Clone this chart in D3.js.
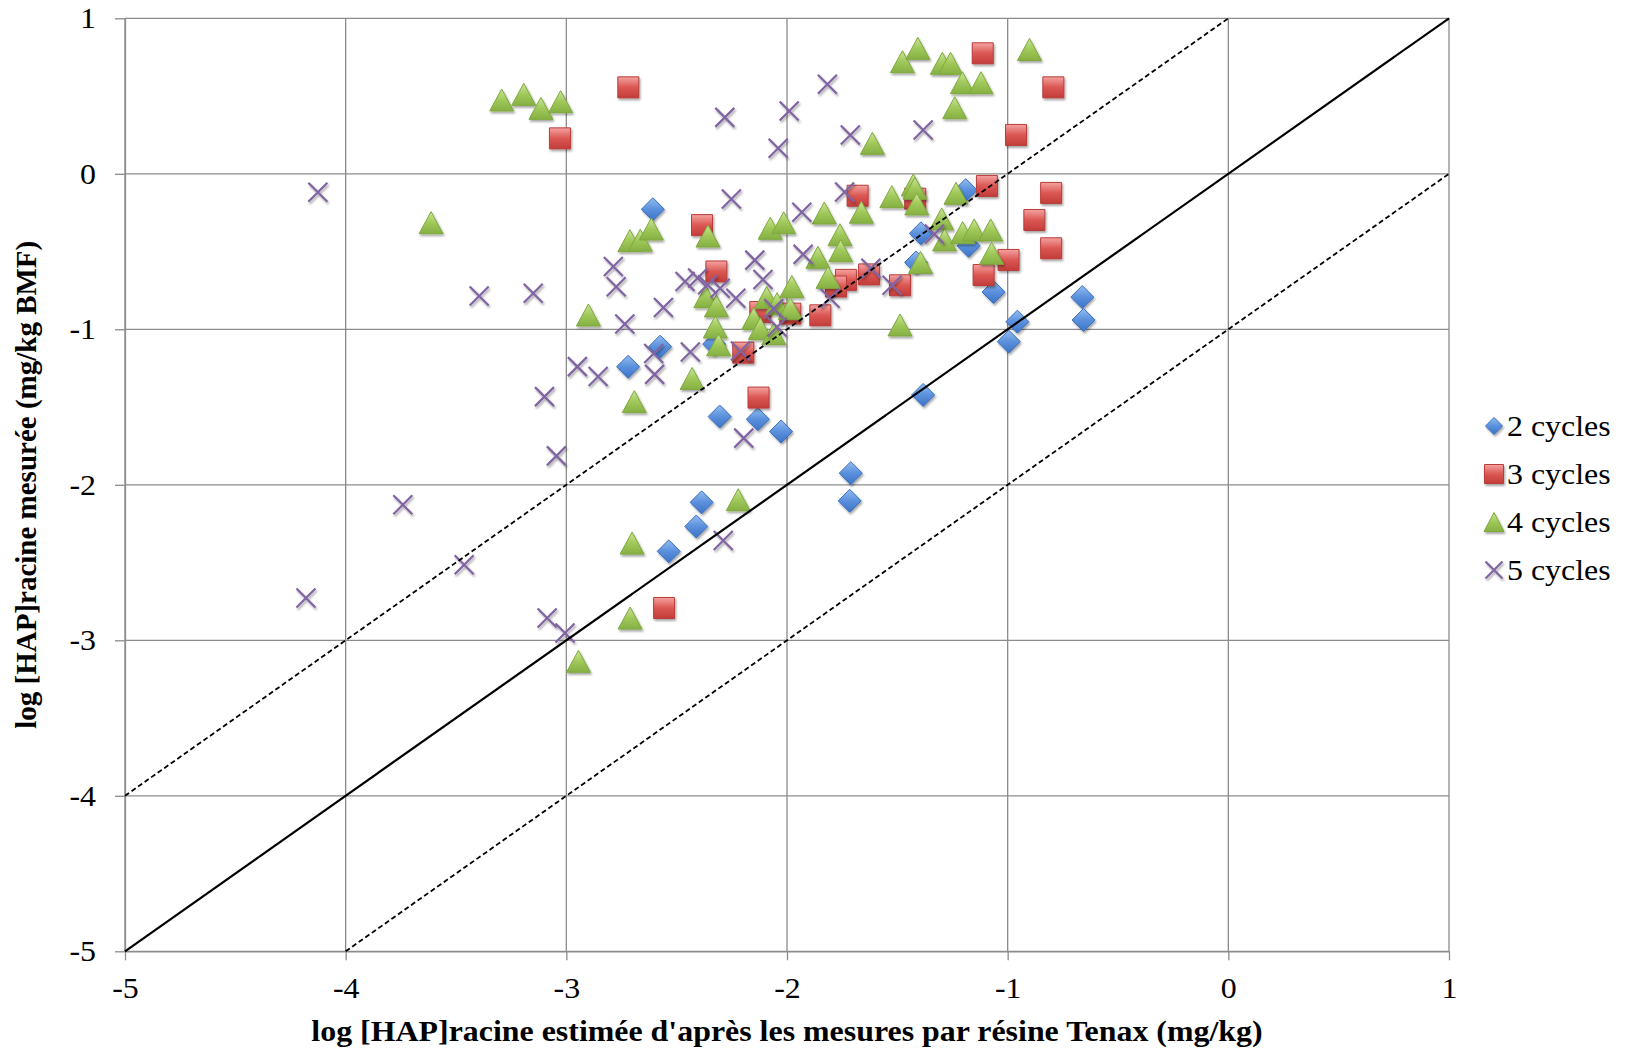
<!DOCTYPE html>
<html>
<head>
<meta charset="utf-8">
<script src="https://cdn.jsdelivr.net/npm/d3@7"></script>
<style>
  html, body { margin: 0; padding: 0; background: #fff; }
  svg { display: block; }
  svg text { font-family: "Liberation Serif", "Times New Roman", serif; }
</style>
</head>
<body>
<div id="chart"></div>
<script>
const twoCycles = [
  [-2.608, -0.228], [-1.190, -0.105], [-1.393, -0.383], [-1.177, -0.463],
  [-1.415, -0.570], [-1.064, -0.760], [-0.662, -0.793], [-0.656, -0.940],
  [-0.956, -0.951], [-0.995, -1.079], [-2.575, -1.112], [-2.720, -1.241],
  [-2.330, -1.095], [-1.383, -1.422], [-2.305, -1.561], [-2.132, -1.578],
  [-2.027, -1.657], [-1.711, -1.925], [-1.716, -2.103], [-2.387, -2.113],
  [-2.411, -2.268], [-2.536, -2.428]
];

const threeCycles = [
  [-2.719, 0.556], [-3.029, 0.228], [-1.113, 0.775], [-0.793, 0.556],
  [-0.962, 0.250], [-2.385, -0.330], [-1.680, -0.141], [-1.419, -0.160],
  [-1.094, -0.078], [-0.803, -0.123], [-0.879, -0.297], [-0.803, -0.479],
  [-0.996, -0.554], [-1.109, -0.651], [-2.320, -0.628], [-1.733, -0.682],
  [-1.778, -0.725], [-1.628, -0.647], [-1.488, -0.717], [-2.121, -0.889],
  [-1.985, -0.899], [-1.849, -0.910], [-2.198, -1.150], [-2.129, -1.439],
  [-2.557, -2.792]
];

const fourCycles = [
  [-3.293, 0.475], [-3.193, 0.511], [-3.115, 0.421], [-3.026, 0.464],
  [-1.477, 0.721], [-1.407, 0.807], [-1.296, 0.711], [-1.259, 0.711],
  [-1.205, 0.586], [-1.121, 0.586], [-1.240, 0.425], [-0.901, 0.800],
  [-1.613, 0.196], [-3.613, -0.314], [-2.712, -0.430], [-2.665, -0.427],
  [-2.615, -0.355], [-2.358, -0.400], [-2.076, -0.350], [-2.015, -0.315],
  [-1.831, -0.252], [-1.663, -0.247], [-1.525, -0.147], [-1.428, -0.072],
  [-1.420, -0.093], [-1.412, -0.194], [-1.234, -0.125], [-1.760, -0.392],
  [-1.757, -0.495], [-1.860, -0.537], [-1.814, -0.666], [-1.299, -0.290],
  [-1.286, -0.425], [-1.204, -0.378], [-1.152, -0.361], [-1.077, -0.361],
  [-1.073, -0.511], [-1.395, -0.570], [-1.488, -0.972], [-2.900, -0.908],
  [-2.368, -0.790], [-2.320, -0.850], [-2.325, -0.985], [-2.310, -1.100],
  [-1.978, -0.725], [-2.092, -0.795], [-2.045, -0.835], [-1.985, -0.867],
  [-2.151, -0.931], [-2.121, -0.996], [-2.060, -1.028], [-2.430, -1.316],
  [-2.692, -1.465], [-2.221, -2.096], [-2.702, -2.375], [-2.711, -2.857],
  [-2.945, -3.135]
];

const fiveCycles = [
  [-4.126, -0.119], [-3.395, -0.786], [-3.150, -0.768], [-2.787, -0.596],
  [-2.774, -0.726], [-2.735, -0.966], [-2.282, 0.363], [-1.990, 0.404],
  [-2.040, 0.164], [-1.817, 0.576], [-1.713, 0.250], [-1.383, 0.282],
  [-2.252, -0.162], [-1.933, -0.247], [-1.739, -0.117], [-1.927, -0.518],
  [-2.146, -0.555], [-2.109, -0.680], [-2.462, -0.693], [-2.405, -0.670],
  [-2.360, -0.714], [-2.303, -0.736], [-2.232, -0.800], [-2.560, -0.860],
  [-2.060, -0.867], [-2.045, -0.985], [-1.805, -0.800], [-1.620, -0.607],
  [-1.524, -0.717], [-1.332, -0.388], [-2.438, -1.146], [-2.604, -1.156],
  [-2.600, -1.290], [-2.211, -1.140], [-2.950, -1.240], [-2.856, -1.304],
  [-3.099, -1.433], [-3.045, -1.814], [-2.196, -1.700], [-2.289, -2.358],
  [-3.741, -2.128], [-3.463, -2.514], [-4.180, -2.728], [-3.087, -2.857],
  [-3.006, -2.953]
];

const seriesNames = ['2 cycles', '3 cycles', '4 cycles', '5 cycles'];
const axisTicks = [-5, -4, -3, -2, -1, 0, 1];

// y = x + offset, drawn between x = from and x = to
const refLines = [
  { offset: 0, from: -5, to: 1, dashed: false },
  { offset: 1, from: -5, to: 0, dashed: true },
  { offset: -1, from: -4, to: 1, dashed: true }
];

const xTitle = "log [HAP]racine estimée d'après les mesures par résine Tenax (mg/kg)";
const yTitle = 'log [HAP]racine mesurée (mg/kg BMF)';

let width = 1625;
let height = 1051;
let serif = '"Liberation Serif", "Times New Roman", serif';
let hStretch = 1.1; // the source picture is slightly wider than tall

let x = d3.scaleLinear().domain([-5, 1]).range([125, 1449]);
let y = d3.scaleLinear().domain([-5, 1]).range([951.3, 18.3]);

let svg = d3.select('#chart')
  .append('svg')
  .attr('width', width)
  .attr('height', height)
  .attr('font-family', serif);

let defs = svg.append('defs');

let shadow = defs.append('filter')
  .attr('id', 'shadow')
  .attr('x', '-50%').attr('y', '-50%')
  .attr('width', '200%').attr('height', '200%');
shadow.append('feDropShadow')
  .attr('dx', 1.2).attr('dy', 2)
  .attr('stdDeviation', 1.3)
  .attr('flood-color', '#000')
  .attr('flood-opacity', 0.35);

function gradient(id, stops) {
  let g = defs.append('linearGradient')
    .attr('id', id)
    .attr('x1', 0).attr('y1', 0)
    .attr('x2', 0).attr('y2', 1);
  stops.forEach((c, i) => {
    g.append('stop')
      .attr('offset', `${(i / (stops.length - 1)) * 100}%`)
      .attr('stop-color', c);
  });
}

gradient('g-blue', ['#93bdf0', '#5a90dc', '#3d73c6']);
gradient('g-red', ['#f4a3a1', '#db5753', '#c23d3a']);
gradient('g-green', ['#cbe697', '#a0c85a', '#86b043']);

// marker shapes, drawn around (0,0)
function diamondPath(r) {
  return `M0,${-r}L${r},0L0,${r}L${-r},0Z`;
}
function squarePath(r) {
  return `M${-r},${-r}H${r}V${r}H${-r}Z`;
}
function trianglePath(w, h) {
  return `M0,${-h / 2}L${w / 2},${h / 2}L${-w / 2},${h / 2}Z`;
}
function crossPath(r) {
  return `M${-r},${-r}L${r},${r}M${-r},${r}L${r},${-r}`;
}

let markers = [
  { data: twoCycles, path: diamondPath(11.5), fill: 'url(#g-blue)', stroke: '#3a6fbf', sw: 1, legendPath: diamondPath(8.5) },
  { data: threeCycles, path: squarePath(10.5), fill: 'url(#g-red)', stroke: '#b83c39', sw: 1, legendPath: squarePath(9.5) },
  { data: fourCycles, path: trianglePath(24, 22), fill: 'url(#g-green)', stroke: '#7fa83e', sw: 1, legendPath: trianglePath(20, 19) },
  { data: fiveCycles, path: crossPath(9.5), fill: 'none', stroke: '#8064a2', sw: 2.2, legendPath: crossPath(8.5) }
];

// widen a text element by hStretch without moving its anchor
function stretch(sel) {
  sel.each(function() {
    let len = this.getComputedTextLength();
    d3.select(this)
      .attr('textLength', len * hStretch)
      .attr('lengthAdjust', 'spacingAndGlyphs');
  });
}

// grid
let grid = svg.append('g').attr('class', 'grid');

grid.selectAll('line.h')
  .data(axisTicks)
  .enter()
  .append('line')
  .attr('x1', x(-5)).attr('x2', x(1))
  .attr('y1', (d) => y(d)).attr('y2', (d) => y(d))
  .attr('stroke', '#8c8c8c')
  .attr('stroke-width', 1.3);

grid.selectAll('line.v')
  .data(axisTicks)
  .enter()
  .append('line')
  .attr('y1', y(-5)).attr('y2', y(1))
  .attr('x1', (d) => x(d)).attr('x2', (d) => x(d))
  .attr('stroke', '#8c8c8c')
  .attr('stroke-width', 1.3);

// axes
let xAxis = svg.append('g')
  .attr('transform', `translate(0, ${y(-5)})`)
  .call(d3.axisBottom(x).tickValues(axisTicks).tickSizeInner(9).tickSizeOuter(0).tickPadding(17).tickFormat(d3.format('d')));

let yAxis = svg.append('g')
  .attr('transform', `translate(${x(-5)}, 0)`)
  .call(d3.axisLeft(y).tickValues(axisTicks).tickSizeInner(10).tickSizeOuter(0).tickPadding(19).tickFormat(d3.format('d')));

[xAxis, yAxis].forEach((a) => {
  a.attr('font-family', serif).attr('font-size', 29);
  a.select('.domain').attr('stroke', '#8c8c8c').attr('stroke-width', 1.3);
  a.selectAll('.tick line').attr('stroke', '#8c8c8c').attr('stroke-width', 1.3);
  a.selectAll('.tick text')
    .attr('fill', '#000')
    .text(function() {
      return d3.select(this).text().replace('\u2212', '-');
    })
    .call(stretch);
});

// points
let plot = svg.append('g').attr('class', 'points');

markers.forEach((m) => {
  plot.append('g')
    .attr('filter', 'url(#shadow)')
    .selectAll('path')
    .data(m.data)
    .enter()
    .append('path')
    .attr('transform', (d) => `translate(${x(d[0])}, ${y(d[1])})`)
    .attr('d', m.path)
    .attr('fill', m.fill)
    .attr('stroke', m.stroke)
    .attr('stroke-width', m.sw);
});

// reference lines y = x, y = x + 1, y = x - 1
svg.append('g')
  .selectAll('line')
  .data(refLines)
  .enter()
  .append('line')
  .attr('x1', (d) => x(d.from))
  .attr('y1', (d) => y(d.from + d.offset))
  .attr('x2', (d) => x(d.to))
  .attr('y2', (d) => y(d.to + d.offset))
  .attr('stroke', '#000')
  .attr('stroke-width', (d) => d.dashed ? 1.8 : 2.2)
  .attr('stroke-dasharray', (d) => d.dashed ? '5,3' : null);

// legend
let legend = svg.append('g')
  .attr('transform', 'translate(1494, 426)');

let item = legend.selectAll('g')
  .data(seriesNames)
  .enter()
  .append('g')
  .attr('transform', (d, i) => `translate(0, ${i * 48})`);

item.append('path')
  .attr('d', (d, i) => markers[i].legendPath)
  .attr('fill', (d, i) => markers[i].fill)
  .attr('stroke', (d, i) => markers[i].stroke)
  .attr('stroke-width', (d, i) => markers[i].sw)
  .attr('filter', 'url(#shadow)');

item.append('text')
  .attr('x', 13)
  .attr('dy', '0.34em')
  .attr('font-size', 29)
  .attr('fill', '#000')
  .text((d) => d)
  .call(stretch);

// titles
svg.append('text')
  .attr('x', (x(-5) + x(1)) / 2)
  .attr('y', 1041)
  .attr('text-anchor', 'middle')
  .attr('font-size', 29)
  .attr('font-weight', 'bold')
  .attr('fill', '#000')
  .text(xTitle)
  .call(stretch);

svg.append('text')
  .attr('transform', `translate(36, ${(y(-5) + y(1)) / 2}) rotate(-90)`)
  .attr('text-anchor', 'middle')
  .attr('font-size', 29)
  .attr('font-weight', 'bold')
  .attr('fill', '#000')
  .text(yTitle);
</script>
</body>
</html>
